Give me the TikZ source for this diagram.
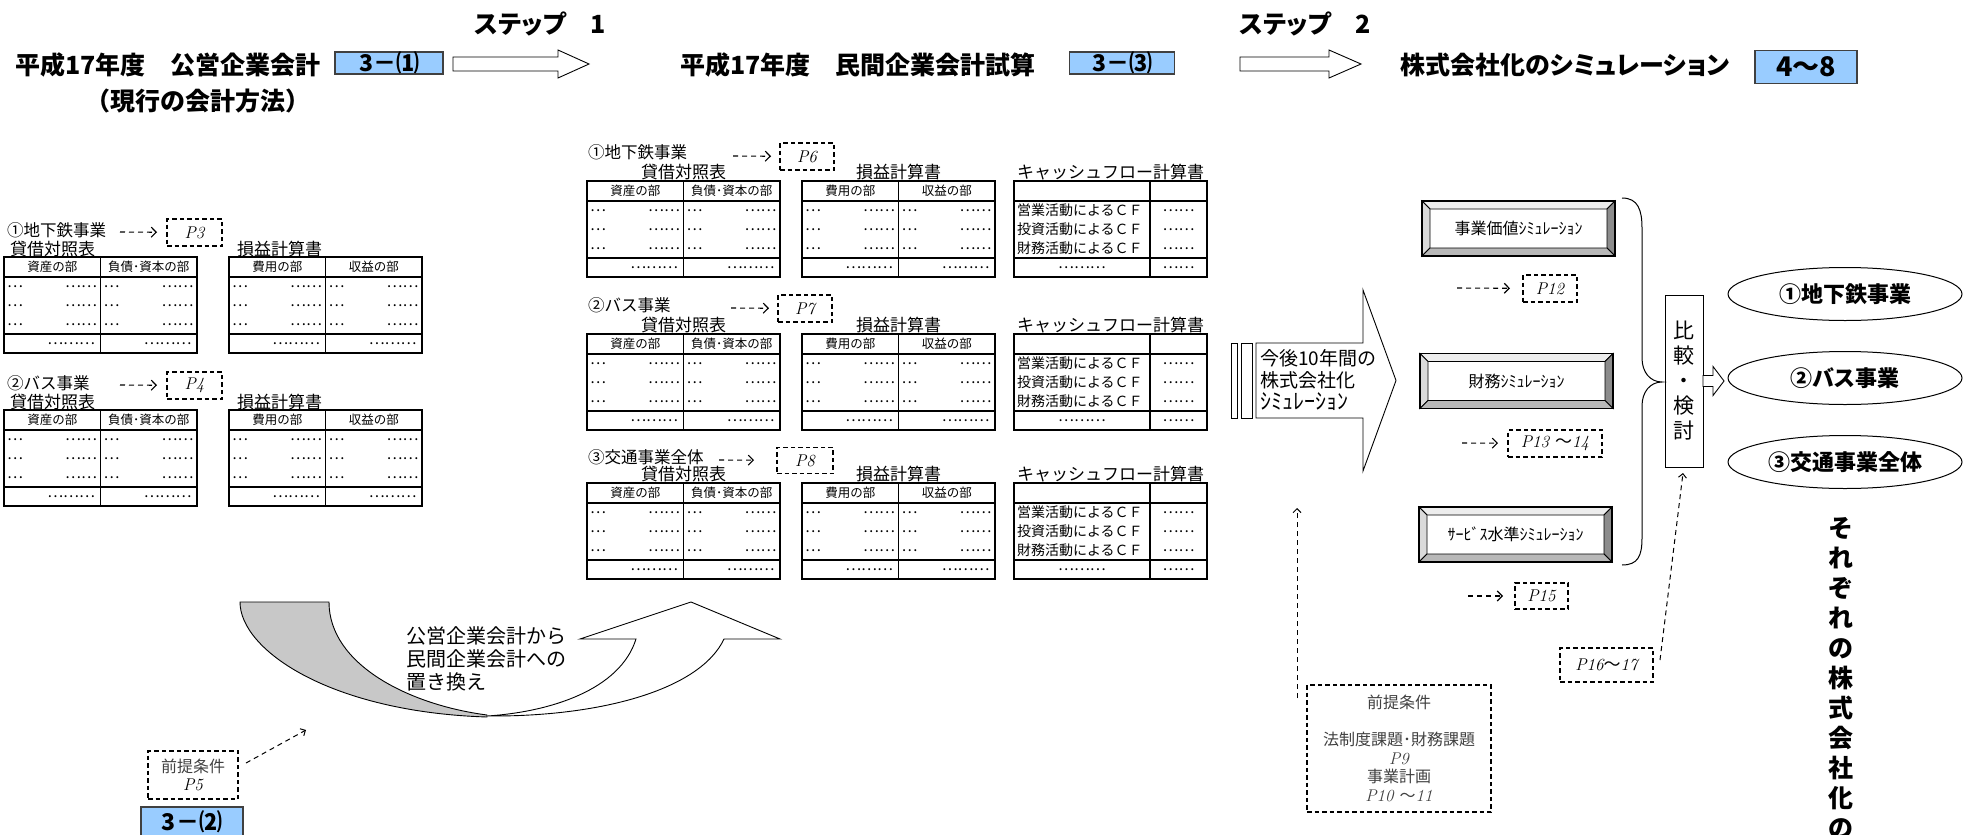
\documentclass[tikz,border=0pt]{standalone}
\usepackage{fontspec}
\newfontfamily\jp{Noto Sans CJK JP}
\newfontfamily\jpp[RawFeature=+palt]{Noto Sans CJK JP}
\usetikzlibrary{shapes.geometric,arrows.meta,calc}
\definecolor{lblue}{HTML}{99CCFF}
\definecolor{bvA}{HTML}{EDEDED}
\definecolor{bvB}{HTML}{DADADA}
\definecolor{bvC}{HTML}{8C8C8C}
\definecolor{bvD}{HTML}{B8B8B8}
\definecolor{cvgray}{HTML}{C8C8C8}
\newcommand{\fz}[2]{\fontsize{#1}{#2}\selectfont}

\tikzset{
 every node/.style={inner sep=0pt,outer sep=0pt},
 ttl/.style={font=\jpp\bfseries\fz{25}{30}},
 tagbox/.style={draw=black!75,line width=1.3pt,fill=lblue,font=\jp\bfseries\fz{23}{24}},
 grp/.style={anchor=west,font=\jp\fz{16.5}{20}},
 tti/.style={font=\jp\fz{17}{20}},
 hd/.style={font=\jp\fz{12.5}{14}},
 dt/.style={font=\jp\fz{15}{16}},
 cfl/.style={font=\jp\fz{14}{16},anchor=west},
 pbox/.style={draw,line width=1.1pt,dash pattern=on 4.5pt off 3pt,font=\itshape\fz{17}{20}},
 darr/.style={line width=1.1pt,dash pattern=on 5pt off 4pt,-{Straight Barb[length=5pt,width=10pt]}},
 darrl/.style={line width=1pt,dash pattern=on 5pt off 4pt,-{Straight Barb[length=4pt,width=8pt]}},
 tabo/.style={line width=2pt},
 tabi/.style={line width=1.3pt},
 blk/.style={draw,line width=0.9pt,fill=white},
 ell/.style={ellipse,draw,line width=1pt,minimum width=234pt,minimum height=53pt,font=\jpp\bfseries\fz{22}{26}},
 bvtxt/.style={font=\jp\fz{16}{18}},
}

\newcommand{\twotab}[5]{%
 \draw[tabi] (#2,#3+20) -- (#2+193,#3+20);
 \draw[tabi] (#2,#3+77) -- (#2+193,#3+77);
 \draw[line width=1.7pt] (#2+96.5,#3) -- (#2+96.5,#3+96);
 \draw[tabo] (#2,#3) rectangle (#2+193,#3+96);
 \node[hd] (#1hl) at (#2+48.25,#3+10) {#4};
 \node[hd] (#1hr) at (#2+144.75,#3+10) {#5};
 \foreach \cc/\cx in {a/0,b/96.5}{
  \foreach \rr/\ry in {1/29.5,2/48.5,3/67.5}{
   \node[dt,anchor=west] (#1\cc\rr s) at (#2+\cx+3,#3+\ry) {…};
   \node[dt,anchor=east] (#1\cc\rr e) at (#2+\cx+93,#3+\ry) {……};
  }
  \node[dt,anchor=east] (#1\cc t) at (#2+\cx+91,#3+86.5) {………};
 }
}
\newcommand{\cftab}[3]{%
 \draw[tabi] (#2,#3+20) -- (#2+193,#3+20);
 \draw[tabi] (#2,#3+77) -- (#2+193,#3+77);
 \draw[line width=1.7pt] (#2+136,#3) -- (#2+136,#3+96);
 \draw[tabo] (#2,#3) rectangle (#2+193,#3+96);
 \node[cfl] (#1ra) at (#2+3,#3+29.5) {営業活動によるＣＦ};
 \node[cfl] (#1rb) at (#2+3,#3+48.5) {投資活動によるＣＦ};
 \node[cfl] (#1rc) at (#2+3,#3+67.5) {財務活動によるＣＦ};
 \foreach \rr/\ry in {1/29.5,2/48.5,3/67.5}{\node[dt] (#1v\rr) at (#2+164.5,#3+\ry) {……};}
 \node[dt] (#1tl) at (#2+68,#3+86.5) {………};
 \node[dt] (#1tr) at (#2+164.5,#3+86.5) {……};
}
\newcommand{\bevbox}[4]{%
 \node[minimum width=193pt,minimum height=55pt] (#1) at (#2,#3) {};
 \coordinate (#1ia) at ($(#1.north west)+(8,8)$);
 \coordinate (#1ib) at ($(#1.north east)+(-8,8)$);
 \coordinate (#1ic) at ($(#1.south east)+(-8,-8)$);
 \coordinate (#1id) at ($(#1.south west)+(8,-8)$);
 \filldraw[fill=bvA,line width=0.9pt] (#1.north west) -- (#1.north east) -- (#1ib) -- (#1ia) -- cycle;
 \filldraw[fill=bvB,line width=0.9pt] (#1.north west) -- (#1ia) -- (#1id) -- (#1.south west) -- cycle;
 \filldraw[fill=bvC,line width=0.9pt] (#1.north east) -- (#1.south east) -- (#1ic) -- (#1ib) -- cycle;
 \filldraw[fill=bvD,line width=0.9pt] (#1.south west) -- (#1id) -- (#1ic) -- (#1.south east) -- cycle;
 \draw[line width=1.2pt] (#1.north west) rectangle (#1.south east);
 \node[bvtxt] (#1t) at (#1) {#4};
}

\begin{document}
\begin{tikzpicture}[x=1pt,y=-1pt]
\useasboundingbox (0,0) rectangle (1971,835);

% ---------- header row ----------
\node[ttl,anchor=west] (st1) at (475,24) {ステップ　1};
\node[ttl,anchor=west] (st2) at (1240,24) {ステップ　2};
\node[ttl] (t1) at (168,65) {平成17年度　公営企業会計};
\node[tagbox,minimum width=108pt,minimum height=20pt] (b1) at (389,63) {3－⑴};
\node[font=\jp\bfseries\fz{25}{30}] (t1b) at (198,101) {（現行の会計方法）};
\node[ttl] (t2) at (858,65) {平成17年度　民間企業会計試算};
\node[tagbox,minimum width=105pt,minimum height=20pt] (b2) at (1122,63) {3－⑶};
\node[ttl] (t3) at (1565,65) {株式会社化のシミュレーション};
\node[tagbox,minimum width=102pt,minimum height=33pt,font=\jp\bfseries\fz{27}{28}] (b3) at (1806,67) {4〜8};
\draw[blk] (453,57) -- (558,57) -- (558,50) -- (589,64) -- (558,78) -- (558,71) -- (453,71) -- cycle;
\draw[blk] (1240,57) -- (1329,57) -- (1329,50) -- (1361,64) -- (1329,78) -- (1329,71) -- (1240,71) -- cycle;

% ---------- left groups ----------
\node[grp] (g1) at (7,230) {①地下鉄事業};
\node[pbox,minimum width=55pt,minimum height=27pt] (p3) at (194.5,232.5) {P3};
\coordinate (a3) at (120,232);
\draw[darr,shorten >=10pt] (a3) -- (p3);
\node[tti,anchor=west] (g1bs) at (10,249) {貸借対照表};
\node[tti,anchor=west] (g1pl) at (237,249) {損益計算書};
\twotab{LAbs}{4}{257}{資産の部}{負債･資本の部}
\twotab{LApl}{229}{257}{費用の部}{収益の部}

\node[grp] (g2) at (7,383) {②バス事業};
\node[pbox,minimum width=55pt,minimum height=27pt] (p4) at (194.5,385.5) {P4};
\coordinate (a4) at (120,385);
\draw[darr,shorten >=10pt] (a4) -- (p4);
\node[tti,anchor=west] (g2bs) at (10,402) {貸借対照表};
\node[tti,anchor=west] (g2pl) at (237,402) {損益計算書};
\twotab{LBbs}{4}{410}{資産の部}{負債･資本の部}
\twotab{LBpl}{229}{410}{費用の部}{収益の部}

% ---------- middle groups ----------
\node[grp] (m1) at (588,152) {①地下鉄事業};
\node[pbox,minimum width=54pt,minimum height=27pt] (p6) at (807,156.5) {P6};
\coordinate (a6) at (733,156);
\draw[darr,shorten >=9pt] (a6) -- (p6);
\node[tti] (m1bs) at (683.5,172.5) {貸借対照表};
\node[tti] (m1pl) at (898.5,172.5) {損益計算書};
\node[tti] (m1cf) at (1110.5,172.5) {キャッシュフロー計算書};
\twotab{MAbs}{587}{181}{資産の部}{負債･資本の部}
\twotab{MApl}{802}{181}{費用の部}{収益の部}
\cftab{MAcf}{1014}{181}

\node[grp] (m2) at (588,305.5) {②バス事業};
\node[pbox,minimum width=54pt,minimum height=27pt] (p7) at (805,308.5) {P7};
\coordinate (a7) at (731,308);
\draw[darr,shorten >=9pt] (a7) -- (p7);
\node[tti] (m2bs) at (683.5,325.5) {貸借対照表};
\node[tti] (m2pl) at (898.5,325.5) {損益計算書};
\node[tti] (m2cf) at (1110.5,325.5) {キャッシュフロー計算書};
\twotab{MBbs}{587}{334}{資産の部}{負債･資本の部}
\twotab{MBpl}{802}{334}{費用の部}{収益の部}
\cftab{MBcf}{1014}{334}

\node[grp] (m3) at (588,457.5) {③交通事業全体};
\node[pbox,minimum width=56pt,minimum height=26pt] (p8) at (805,460.5) {P8};
\coordinate (a8) at (719,460);
\draw[darr,shorten >=23pt] (a8) -- (p8);
\node[tti] (m3bs) at (683.5,474.5) {貸借対照表};
\node[tti] (m3pl) at (898.5,474.5) {損益計算書};
\node[tti] (m3cf) at (1110.5,474.5) {キャッシュフロー計算書};
\twotab{MCbs}{587}{483}{資産の部}{負債･資本の部}
\twotab{MCpl}{802}{483}{費用の部}{収益の部}
\cftab{MCcf}{1014}{483}

% ---------- curved arrow ----------
\filldraw[fill=white,line width=0.9pt] (487,716) .. controls (600,717) and (700,690) .. (724,639) -- (780,639) -- (691,602) -- (580,639) -- (636,639) .. controls (620,690) and (550,712) .. (487,716) -- cycle;
\filldraw[fill=cvgray,line width=0.9pt] (240,602) .. controls (240,650) and (330,712) .. (487,717) -- (487,715) .. controls (410,705) and (329,665) .. (329,602) -- cycle;
\node[anchor=west,align=left,font=\jp\fz{20}{23}] (cvt) at (406,659) {公営企業会計から\\民間企業会計への\\置き換え};

\node[pbox,minimum width=90pt,minimum height=48pt,align=center,font=\fz{16}{18}] (p5) at (193,775) {{\jp\color{black!75}前提条件}\\{\itshape\fz{17}{18}P5}};
\coordinate (cvin) at (306,730);
\draw[darrl] ($(p5.north east)+(8,12)$) -- (cvin);
\node[tagbox,minimum width=102pt,minimum height=30pt] (b4) at (192,822) {3－⑵};

% ---------- right part ----------
\draw[line width=0.9pt] (1231,343) rectangle (1237,418);
\draw[line width=0.9pt] (1241,343) rectangle (1252,418);
\draw[blk] (1256,343) -- (1363,343) -- (1363,290) -- (1396,380.5) -- (1363,471) -- (1363,418) -- (1256,418) -- cycle;
\node[anchor=west,align=left,font=\jp\fz{19}{22}] (bat) at (1260,380) {今後10年間の\\株式会社化\\{\fz{22}{22}ｼﾐｭﾚｰｼｮﾝ}};

\bevbox{bva}{1518.5}{228.5}{事業価値ｼﾐｭﾚｰｼｮﾝ}
\bevbox{bvb}{1516.5}{381}{財務ｼﾐｭﾚｰｼｮﾝ}
\bevbox{bvc}{1515.5}{534.5}{ｻｰﾋﾞｽ水準ｼﾐｭﾚｰｼｮﾝ}

\node[pbox,minimum width=54pt,minimum height=27pt] (p12) at (1550,288.5) {P12};
\coordinate (a12) at (1457,288);
\draw[darr,shorten >=13pt] (a12) -- (p12);
\node[pbox,minimum width=94pt,minimum height=27pt] (p13) at (1555,443.5) {P13 {\jp\upshape 〜}14};
\coordinate (a13) at (1462,443);
\draw[darr,shorten >=10pt] (a13) -- (p13);
\node[pbox,minimum width=53pt,minimum height=26pt] (p15) at (1541.5,596) {P15};
\coordinate (a15) at (1468,596);
\draw[darr,shorten >=12pt] (a15) -- (p15);
\node[pbox,minimum width=93pt,minimum height=34pt] (p16) at (1606.5,665) {P16{\jp\upshape 〜}17};

\node[pbox,minimum width=184pt,minimum height=127pt,align=center,font=\jp\fz{16}{18.6},text=black!75] (pre) at (1399,748.5)
 {前提条件\\[18.6pt]法制度課題･財務課題\\{\rmfamily\itshape\fz{17}{18.6}P9}\\事業計画\\{\rmfamily\itshape\fz{17}{18.6}P10 }〜{\rmfamily\itshape\fz{17}{18.6}11}};
\coordinate (v1) at (1297,698);
\coordinate (v2) at (1297,508);
\draw[darrl] (v1) -- (v2);

% brace
\draw[line width=1pt] (1622,198) .. controls (1638,198) and (1642,210) .. (1642,228) -- (1642,358) .. controls (1642,372) and (1650,382) .. (1662,382) .. controls (1650,382) and (1642,392) .. (1642,406) -- (1642,538) .. controls (1642,556) and (1638,565) .. (1622,565);

\node[draw,line width=1pt,minimum width=38pt,minimum height=172pt,align=center,font=\jp\fz{21}{25}] (cmp) at (1684,381) {比\\較\\・\\検\\討};
\draw[blk] (cmp.east) ++(0,-5.5) -- ++(10,0) -- ++(0,-9) -- ++(11,14.5) -- ++(-11,14.5) -- ++(0,-9) -- ++(-10,0) -- cycle;
\draw[darrl] ($(p16.north east)+(7,12)$) -- ($(cmp.south)+(-1,6)$);

\node[ell] (e1) at (1845,294) {①地下鉄事業};
\node[ell] (e2) at (1845,378) {②バス事業};
\node[ell] (e3) at (1845,462) {③交通事業全体};

\node[anchor=north,align=center,font=\jp\bfseries\fz{25}{30}] (vt) at (1841,517) {そ\\れ\\ぞ\\れ\\の\\株\\式\\会\\社\\化\\の};
\end{tikzpicture}
\end{document}
